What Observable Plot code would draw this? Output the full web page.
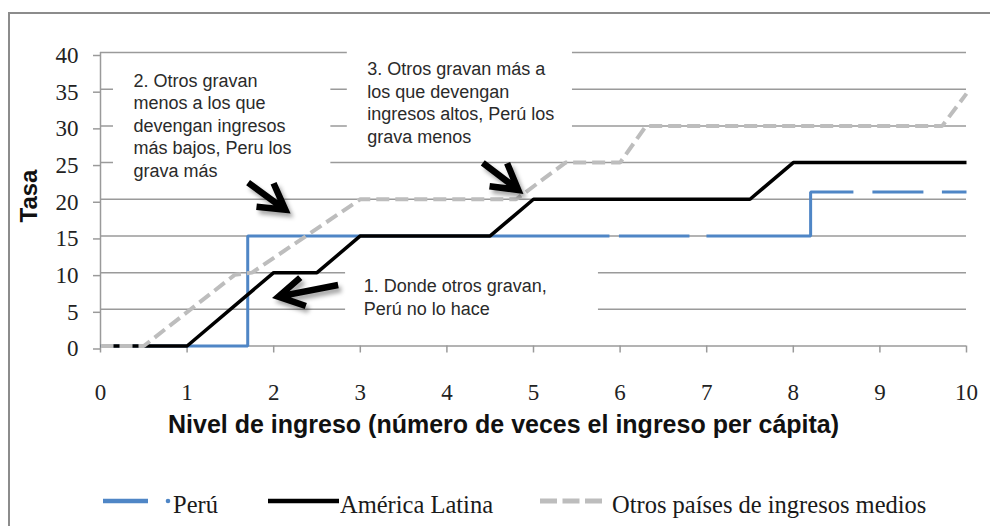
<!DOCTYPE html>
<html><head><meta charset="utf-8">
<script src="https://cdn.jsdelivr.net/npm/d3@7"></script>
<script src="https://cdn.jsdelivr.net/npm/@observablehq/plot@0.6"></script>
<style>
html,body{margin:0;padding:0;background:#fff;}
#wrap{position:relative;width:990px;height:526px;overflow:hidden;background:#fff;}
#wrap svg{position:absolute;left:0;top:0;}
</style></head><body><div id="wrap"></div>
<script>
// ---- data ----
const xTicks = [0,1,2,3,4,5,6,7,8,9,10];
const yTicks = [0,5,10,15,20,25,30,35,40];
const series = ["Perú", "América Latina", "Otros países de ingresos medios"];
const peruX  = [0, 1.7, 1.7, 8.2, 8.2, 10];
const peruY  = [0, 0, 15, 15, 21, 21];
const latamX = [0, 1, 2, 2.5, 3, 4.5, 5, 7.5, 8, 10];
const latamY = [0, 0, 10, 10, 15, 15, 20, 20, 25, 25];
const otrosX = [0, 0.5, 1.55, 1.75, 3, 4.8, 5.37, 6, 6.3, 9.72, 10];
const otrosY = [0, 0, 9.7, 10, 20, 20, 25, 25, 30, 30, 34.4];
const xTitle = "Nivel de ingreso (número de veces el ingreso per cápita)";
const yTitle = "Tasa";
// annotations
const noteText = [
  "2. Otros gravan\nmenos a los que\ndevengan ingresos\nmás bajos, Peru los\ngrava más",
  "3. Otros gravan más a\nlos que devengan\ningresos altos, Perú los\ngrava menos",
  "1. Donde otros gravan,\nPerú no lo hace"
];
const noteX = [0.38, 3.08, 3.04];
const noteY = [37.5, 39.1, 9.5];
const boxX1 = [0.15, 2.85, 2.83];
const boxX2 = [2.66, 5.45, 5.75];
const boxY1 = [21.9, 27.0, 3.5];
const boxY2 = [38.9, 41.2, 11.4];
const arrowX1 = [1.71, 4.42, 2.75];
const arrowY1 = [22.2, 24.9, 8.25];
const arrowX2 = [2.14, 4.83, 2.06];
const arrowY2 = [18.5, 21.2, 6.66];

const rows = (xs, ys, s) => xs.map((x, i) => ({series: s, x, y: ys[i]}));
const peru = rows(peruX, peruY, series[0]);
const latam = rows(latamX, latamY, series[1]);
const otros = rows(otrosX, otrosY, series[2]);
const notes = noteText.map((t, i) => ({t, x: noteX[i], y: noteY[i]}));
const boxes = boxX1.map((v, i) => ({x1: v, x2: boxX2[i], y1: boxY1[i], y2: boxY2[i]}));
const arrows = arrowX1.map((v, i) => ({x1: v, y1: arrowY1[i], x2: arrowX2[i], y2: arrowY2[i]}));

const BLUE = "#4f86c6", GRAY = "#bdbdbd", GRID = "#9a9a9a";

// ---- background overlay: frame, titles, legend ----
const W = 990, H = 526;
const bg = d3.select("#wrap").append("svg").attr("width", W).attr("height", H);
bg.append("path").attr("d", "M9,526V13H990").attr("fill", "none").attr("stroke", "#8c8c8c").attr("stroke-width", 2);
bg.append("text").attr("transform", "translate(37,196) rotate(-90)").attr("text-anchor", "middle")
  .attr("font-family", "Liberation Sans, Arial, sans-serif").attr("font-weight", "bold").attr("font-size", 24)
  .attr("fill", "#111").text(yTitle);
bg.append("text").attr("x", 168).attr("y", 433)
  .attr("font-family", "Liberation Sans, Arial, sans-serif").attr("font-weight", "bold").attr("font-size", 25)
  .attr("fill", "#111").text(xTitle);
const lg = bg.append("g").attr("font-family", "Liberation Serif, Times New Roman, serif").attr("font-size", 24.5).attr("fill", "#1a1a1a");
lg.append("line").attr("x1", 103).attr("x2", 148).attr("y1", 501).attr("y2", 501).attr("stroke", BLUE).attr("stroke-width", 4.5);
lg.append("circle").attr("cx", 168).attr("cy", 501).attr("r", 2.3).attr("fill", BLUE);
lg.append("text").attr("x", 173).attr("y", 513).text(series[0]);
lg.append("line").attr("x1", 268).attr("x2", 339).attr("y1", 501).attr("y2", 501).attr("stroke", "#000").attr("stroke-width", 4.5);
lg.append("text").attr("x", 340).attr("y", 513).text(series[1]);
lg.append("line").attr("x1", 540).attr("x2", 602).attr("y1", 501).attr("y2", 501).attr("stroke", GRAY).attr("stroke-width", 5).attr("stroke-dasharray", "17,5.5");
lg.append("text").attr("x", 612).attr("y", 513).text(series[2]);

// ---- arrows as a function mark using the plot scales ----
function arrowMark(index, scales) {
  const g = d3.create("svg:g").attr("fill", "none").attr("stroke", "#000").attr("stroke-width", 6.5)
    .attr("stroke-linejoin", "miter").attr("stroke-linecap", "butt")
    .style("filter", "drop-shadow(3px 4px 2px rgba(0,0,0,0.35))");
  for (const a of arrows) {
    const x1 = scales.x(a.x1), y1 = scales.y(a.y1), x2 = scales.x(a.x2), y2 = scales.y(a.y2);
    const ang = Math.atan2(y1 - y2, x1 - x2), w = 29, h = Math.PI / 6;
    const wx1 = x2 + w * Math.cos(ang + h), wy1 = y2 + w * Math.sin(ang + h);
    const wx2 = x2 + w * Math.cos(ang - h), wy2 = y2 + w * Math.sin(ang - h);
    g.append("path").attr("d", `M${x1},${y1}L${x2},${y2}M${wx1},${wy1}L${x2},${y2}L${wx2},${wy2}`);
  }
  return g.node();
}

const lineStyle = {x: "x", y: "y", strokeLinejoin: "miter", strokeLinecap: "butt"};
const chart = Plot.plot({
  width: W, height: 420,
  marginLeft: 100, marginRight: 24, marginTop: 52, marginBottom: 74.5,
  style: {background: "transparent", overflow: "visible", fontFamily: "Liberation Serif, Times New Roman, serif", fontSize: "23px", color: "#222"},
  x: {domain: [0, 10], ticks: xTicks, label: null},
  y: {domain: [0, 40], ticks: yTicks, label: null},
  marks: [
    Plot.gridY(yTicks.filter(d => d > 0), {stroke: GRID, strokeOpacity: 1, strokeWidth: 1.5}),
    Plot.ruleY([0], {stroke: GRID, strokeWidth: 1.5}),
    Plot.ruleX([0], {stroke: GRID, strokeWidth: 1.5}),
    Plot.axisY(yTicks, {tickSize: 7, tickPadding: 15, stroke: GRID, strokeWidth: 1.5, fill: "#222", dy: 3, label: null}),
    Plot.axisX(xTicks, {tickSize: 7, tickPadding: 31, stroke: GRID, strokeWidth: 1.5, fill: "#222", label: null}),
    Plot.rect(boxes, {x1: "x1", x2: "x2", y1: "y1", y2: "y2", fill: "white"}),
    Plot.text(notes, {x: "x", y: "y", text: "t", textAnchor: "start", lineAnchor: "top", lineHeight: 1.25,
      fontSize: 18, fontFamily: "Liberation Sans, Arial, sans-serif", fill: "#2a2a2a"}),
    Plot.line(peru, {...lineStyle, stroke: BLUE, strokeWidth: 3, strokeDasharray: "619,9.5,70.5,17,191,19,51,18.5,300"}),
    Plot.line(latam, {...lineStyle, stroke: "#000", strokeWidth: 3.5}),
    Plot.line(otros, {...lineStyle, stroke: GRAY, strokeWidth: 4, strokeDasharray: "13,6"}),
    arrowMark
  ]
});
document.getElementById("wrap").appendChild(chart);
</script></body></html>
